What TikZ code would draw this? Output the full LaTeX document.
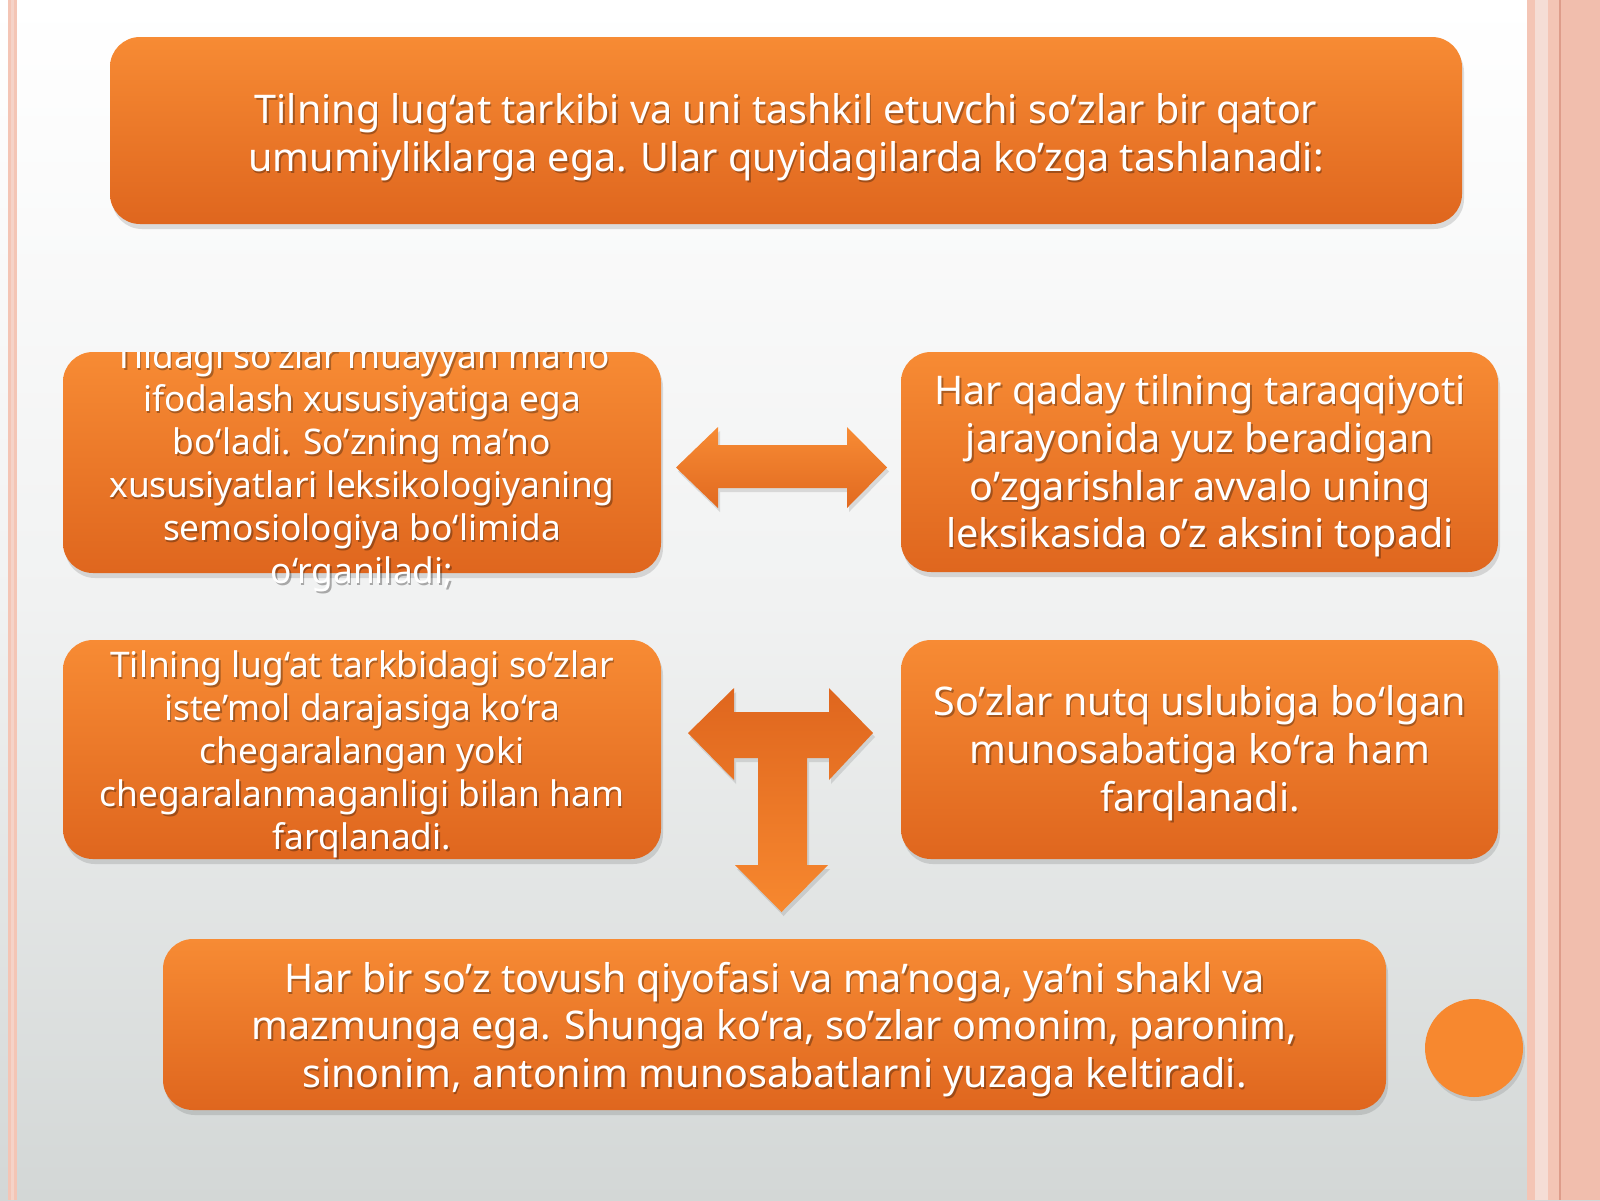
\documentclass[tikz,border=0pt]{standalone}
\usepackage{fontspec}
\setmainfont{Noto Sans}
\usetikzlibrary{shadows,calc}
\definecolor{orT}{HTML}{F78B34}
\definecolor{orB}{HTML}{DF661E}
\definecolor{orC}{HTML}{F7882F}
\definecolor{bgB}{HTML}{D3D7D6}
\definecolor{bgM}{HTML}{F1F2F2}
\definecolor{pinkA}{HTML}{F4C5B5}
\definecolor{pinkB}{HTML}{F1BEAD}
\definecolor{pinkL}{HTML}{F5DDD5}
\definecolor{pinkD}{HTML}{DE9C8A}
\begin{document}
\begin{tikzpicture}[x=1pt,y=-1pt,
  box/.style={draw=none, rounded corners=30pt, top color=orT, bottom color=orB,
    inner sep=0pt, outer sep=0pt,
    drop shadow={shadow xshift=2pt, shadow yshift=-5pt, opacity=0.18, fill=black!70}},
  arrowshape/.style={draw=none,
    drop shadow={shadow xshift=2pt, shadow yshift=-4pt, opacity=0.16, fill=black!70}},
  txt/.style={text=white, align=center, inner sep=0pt},
  txtsh/.style={text=black, opacity=0.3, align=center, inner sep=0pt},
  big/.style={font=\fontsize{39.5}{47.8}\selectfont},
  small/.style={font=\fontsize{35.3}{43}\selectfont}
]
\useasboundingbox (0,0) rectangle (1600,1200);
% background
\shade[top color=white, bottom color=bgM] (0,0) rectangle (1600,600);
\shade[top color=bgM, bottom color=bgB] (0,600) rectangle (1600,1200);
% left stripe
\fill[pinkA] (8,0) rectangle (17,1200);
\fill[pinkL!60!pinkA] (11,0) rectangle (14,1200);
% right stripes
\fill[pinkA] (1527,0) rectangle (1535,1200);
\fill[pinkL] (1535,0) rectangle (1548,1200);
\fill[pinkA] (1548,0) rectangle (1560,1200);
\fill[pinkB] (1560,0) rectangle (1600,1200);
\draw[pinkD, line width=1.5pt] (1560,0) -- (1560,1200);

% boxes
\node[box, minimum width=1352pt, minimum height=187pt] (topbox) at (786,130.5) {};
\node[box, minimum width=598pt, minimum height=221pt] (lbox1) at (362,462.5) {};
\node[box, minimum width=597pt, minimum height=220pt] (rbox1) at (1199.5,462) {};
\node[box, minimum width=598pt, minimum height=219pt] (lbox2) at (362,749.5) {};
\node[box, minimum width=597pt, minimum height=219pt] (rbox2) at (1199.5,749.5) {};
\node[box, minimum width=1223pt, minimum height=171pt] (botbox) at (774.5,1024.5) {};

% circle
\node[circle, draw=none, fill=orC, minimum size=98pt, inner sep=0pt,
  drop shadow={shadow xshift=2pt, shadow yshift=-4pt, opacity=0.16, fill=black!70}] (dot) at (1474,1048) {};

% double arrow
\path[arrowshape, top color=orT, bottom color=orB!90!orT]
  (676,467.5) -- (718,427) -- (718,445) -- (847,445) -- (847,427) -- (887,467.5)
  -- (847,508) -- (847,488) -- (718,488) -- (718,508) -- cycle;

% T arrow
\path[arrowshape, top color=orB, bottom color=orC]
  (688,733) -- (734,688) -- (734,712) -- (829,712) -- (829,688) -- (873,733)
  -- (829,780) -- (829,758) -- (807,758) -- (807,865) -- (828,865) -- (781.5,912)
  -- (735,865) -- (758,865) -- (758,758) -- (734,758) -- (734,780) -- cycle;

% texts
\newcommand\stext[4]{%
  \node[txtsh,#3] (#1s) at ($(#2)+(1.5,2)$) {#4};
  \node[txt,#3] (#1) at (#2) {#4};}

\stext{ttop}{786,137}{big}{Tilning lug‘at tarkibi va uni tashkil etuvchi so’zlar bir qator\\umumiyliklarga ega. Ular quyidagilarda ko’zga tashlanadi:}

\begin{scope}
\clip (0,352) rectangle (1600,1200);
\stext{tl1}{362,467}{small}{Tildagi so’zlar muayyan ma’no\\ifodalash xususiyatiga ega\\bo‘ladi. So’zning ma’no\\xususiyatlari leksikologiyaning\\semosiologiya bo‘limida\\o‘rganiladi;}
\end{scope}

\stext{tr1}{1200,466}{big}{Har qaday tilning taraqqiyoti\\jarayonida yuz beradigan\\o’zgarishlar avvalo uning\\leksikasida o’z aksini topadi}

\stext{tl2}{362,754}{small}{Tilning lug‘at tarkbidagi so‘zlar\\iste’mol darajasiga ko‘ra\\chegaralangan yoki\\chegaralanmaganligi bilan ham\\farqlanadi.}

\stext{tr2}{1200,753.5}{big}{So’zlar nutq uslubiga bo‘lgan\\munosabatiga ko‘ra ham\\farqlanadi.}

\stext{tbot}{774.5,1029.5}{big}{Har bir so’z tovush qiyofasi va ma’noga, ya’ni shakl va\\mazmunga ega. Shunga ko‘ra, so’zlar omonim, paronim,\\sinonim, antonim munosabatlarni yuzaga keltiradi.}
\end{tikzpicture}
\end{document}
